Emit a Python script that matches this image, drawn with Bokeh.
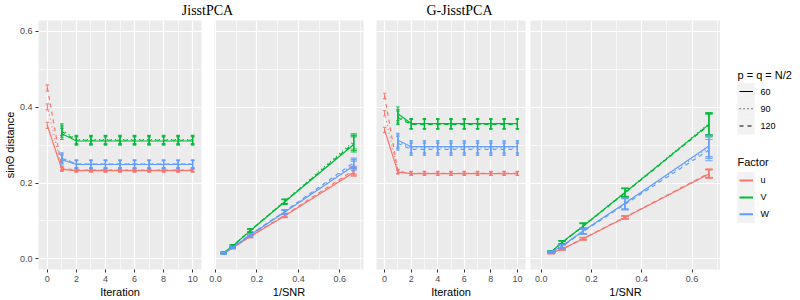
from bokeh.plotting import figure
from bokeh.layouts import row, column
from bokeh.models import Range1d, FixedTicker, Grid, PrintfTickFormatter, ColumnDataSource
from bokeh.core.properties import value
from bokeh.embed import file_html
from bokeh.resources import INLINE

# ---------------- data ----------------
iter_u = [0, 1, 2, 3, 4, 5, 6, 7, 8, 9, 10]
iter_vw = [1, 2, 3, 4, 5, 6, 7, 8, 9, 10]
snr_x = [0.04, 0.083, 0.167, 0.333, 0.667]

p_labels = ["60", "90", "120"]
factor_labels = ["u", "V", "W"]
panel_titles = ["JisstPCA", "G-JisstPCA"]
legend_titles = ["p = q = N/2", "Factor"]

# JisstPCA, by iteration
j_it_u_60 = [0.352, 0.236, 0.233, 0.233, 0.233, 0.233, 0.233, 0.233, 0.233, 0.233, 0.233]
j_it_u_90 = [0.401, 0.238, 0.234, 0.234, 0.234, 0.234, 0.234, 0.234, 0.234, 0.234, 0.234]
j_it_u_120 = [0.451, 0.240, 0.234, 0.234, 0.234, 0.234, 0.234, 0.234, 0.234, 0.234, 0.234]
j_it_u_sd = [0.008, 0.005, 0.004, 0.004, 0.004, 0.004, 0.004, 0.004, 0.004, 0.004, 0.004]
j_it_v_60 = [0.330, 0.311, 0.311, 0.311, 0.311, 0.311, 0.311, 0.311, 0.311, 0.311]
j_it_v_90 = [0.341, 0.315, 0.315, 0.315, 0.315, 0.315, 0.315, 0.315, 0.315, 0.315]
j_it_v_120 = [0.336, 0.313, 0.313, 0.313, 0.313, 0.313, 0.313, 0.313, 0.313, 0.313]
j_it_v_sd = [0.015, 0.011, 0.011, 0.011, 0.011, 0.011, 0.011, 0.011, 0.011, 0.011]
j_it_w_60 = [0.262, 0.249, 0.249, 0.249, 0.249, 0.249, 0.249, 0.249, 0.249, 0.249]
j_it_w_90 = [0.268, 0.251, 0.251, 0.251, 0.251, 0.251, 0.251, 0.251, 0.251, 0.251]
j_it_w_120 = [0.265, 0.250, 0.250, 0.250, 0.250, 0.250, 0.250, 0.250, 0.250, 0.250]
j_it_w_sd = [0.012, 0.010, 0.010, 0.010, 0.010, 0.010, 0.010, 0.010, 0.010, 0.010]

# JisstPCA, by 1/SNR
j_sn_u_60 = [0.015, 0.029, 0.059, 0.113, 0.228]
j_sn_u_90 = [0.015, 0.029, 0.059, 0.114, 0.231]
j_sn_u_120 = [0.015, 0.029, 0.060, 0.115, 0.234]
j_sn_u_sd = [0.002, 0.002, 0.003, 0.004, 0.010]
j_sn_v_60 = [0.016, 0.034, 0.074, 0.150, 0.302]
j_sn_v_90 = [0.016, 0.034, 0.075, 0.152, 0.310]
j_sn_v_120 = [0.016, 0.034, 0.075, 0.151, 0.306]
j_sn_v_sd = [0.002, 0.003, 0.004, 0.006, 0.020]
j_sn_w_60 = [0.015, 0.030, 0.063, 0.123, 0.246]
j_sn_w_90 = [0.015, 0.030, 0.064, 0.124, 0.250]
j_sn_w_120 = [0.015, 0.030, 0.064, 0.125, 0.254]
j_sn_w_sd = [0.002, 0.002, 0.003, 0.005, 0.012]

# G-JisstPCA, by iteration
g_it_u_60 = [0.340, 0.229, 0.225, 0.225, 0.225, 0.225, 0.225, 0.225, 0.225, 0.225, 0.225]
g_it_u_90 = [0.384, 0.230, 0.225, 0.225, 0.225, 0.225, 0.225, 0.225, 0.225, 0.225, 0.225]
g_it_u_120 = [0.430, 0.231, 0.226, 0.226, 0.226, 0.226, 0.226, 0.226, 0.226, 0.226, 0.226]
g_it_u_sd = [0.007, 0.005, 0.005, 0.005, 0.005, 0.005, 0.005, 0.005, 0.005, 0.005, 0.005]
g_it_v_60 = [0.383, 0.357, 0.357, 0.357, 0.357, 0.357, 0.357, 0.357, 0.357, 0.357]
g_it_v_90 = [0.376, 0.356, 0.356, 0.356, 0.356, 0.356, 0.356, 0.356, 0.356, 0.356]
g_it_v_120 = [0.372, 0.355, 0.355, 0.355, 0.355, 0.355, 0.355, 0.355, 0.355, 0.355]
g_it_v_sd = [0.018, 0.013, 0.013, 0.013, 0.013, 0.013, 0.013, 0.013, 0.013, 0.013]
g_it_w_60 = [0.313, 0.296, 0.296, 0.296, 0.296, 0.296, 0.296, 0.296, 0.296, 0.296]
g_it_w_90 = [0.309, 0.293, 0.293, 0.293, 0.293, 0.293, 0.293, 0.293, 0.293, 0.293]
g_it_w_120 = [0.305, 0.289, 0.289, 0.289, 0.289, 0.289, 0.289, 0.289, 0.289, 0.289]
g_it_w_sd = [0.018, 0.016, 0.016, 0.016, 0.016, 0.016, 0.016, 0.016, 0.016, 0.016]

# G-JisstPCA, by 1/SNR
g_sn_u_60 = [0.016, 0.026, 0.053, 0.109, 0.224]
g_sn_u_90 = [0.016, 0.026, 0.053, 0.109, 0.225]
g_sn_u_120 = [0.016, 0.026, 0.054, 0.110, 0.226]
g_sn_u_sd = [0.002, 0.002, 0.003, 0.004, 0.011]
g_sn_v_60 = [0.019, 0.044, 0.087, 0.175, 0.355]
g_sn_v_90 = [0.019, 0.044, 0.088, 0.176, 0.357]
g_sn_v_120 = [0.019, 0.043, 0.086, 0.174, 0.353]
g_sn_v_sd = [0.002, 0.004, 0.007, 0.011, 0.029]
g_sn_w_60 = [0.018, 0.034, 0.074, 0.147, 0.298]
g_sn_w_90 = [0.018, 0.033, 0.073, 0.146, 0.293]
g_sn_w_120 = [0.018, 0.033, 0.072, 0.144, 0.287]
g_sn_w_sd = [0.002, 0.004, 0.007, 0.015, 0.028]

# ---------------- style ----------------
SANS = "Liberation Sans"
SERIF = "Liberation Serif"
COLORS = ["#F8766D", "#00BA38", "#619CFF"]
DASHES = ["solid", "1 3", "4 4"]
PANEL_BG = "#EBEBEB"
Y_RANGE = (-0.028, 0.629)
Y_TICKS = [0.0, 0.2, 0.4, 0.6]
Y_MINOR = [0.1, 0.3, 0.5]
ROW_H = 280
BOTTOM = 30


def make_panel(width, mbl, mbr, xr, xticks, xminor, xlabel, show_y, xfmt):
    p = figure(width=width, height=ROW_H, x_range=Range1d(*xr), y_range=Range1d(*Y_RANGE),
               output_backend="svg", toolbar_location=None,
               y_axis_location="left" if show_y else None,
               min_border_left=mbl, min_border_right=mbr, min_border_top=0, min_border_bottom=BOTTOM)
    p.background_fill_color = PANEL_BG
    p.border_fill_color = "white"
    p.outline_line_color = None
    p.center = [r for r in p.center if not isinstance(r, Grid)]
    xt = FixedTicker(ticks=xticks, minor_ticks=xminor)
    yt = FixedTicker(ticks=Y_TICKS, minor_ticks=Y_MINOR)
    for dim, tk in ((0, xt), (1, yt)):
        p.add_layout(Grid(dimension=dim, ticker=tk, grid_line_color="white", grid_line_width=1.2,
                          minor_grid_line_color="white", minor_grid_line_width=0.6), "center")
    p.xaxis.ticker = xt
    p.xaxis.formatter = PrintfTickFormatter(format=xfmt)
    p.xaxis.axis_label = xlabel
    if show_y:
        p.yaxis.ticker = yt
        p.yaxis.formatter = PrintfTickFormatter(format="%.1f")
        p.yaxis.axis_label = "sin\u0398 distance"
    for ax in p.axis:
        ax.axis_line_color = None
        ax.major_tick_line_color = "#333333"
        ax.major_tick_out = 3
        ax.major_tick_in = 0
        ax.minor_tick_line_color = None
        ax.major_label_text_font = SANS
        ax.major_label_text_font_size = "9px"
        ax.major_label_text_color = "#4D4D4D"
        ax.axis_label_text_font = SANS
        ax.axis_label_text_font_size = "11px"
        ax.axis_label_text_font_style = "normal"
        ax.axis_label_text_color = "black"
        ax.major_label_standoff = 2
        ax.axis_label_standoff = 1
    return p


def add_factor(p, xs, means_list, sd, color, cap):
    for ys, dash in zip(means_list, DASHES):
        p.line(xs, ys, line_color=color, line_width=1.2, line_dash=dash)
    for ys in means_list:
        lo = [y - s for y, s in zip(ys, sd)]
        hi = [y + s for y, s in zip(ys, sd)]
        src = ColumnDataSource(dict(x=xs, lo=lo, hi=hi,
                                    xa=[x - cap / 2 for x in xs], xb=[x + cap / 2 for x in xs]))
        kw = dict(source=src, line_color=color, line_width=1.2, line_alpha=0.85)
        p.segment(x0="x", y0="lo", x1="x", y1="hi", **kw)
        p.segment(x0="xa", y0="lo", x1="xb", y1="lo", **kw)
        p.segment(x0="xa", y0="hi", x1="xb", y1="hi", **kw)


IT_TICKS = [0, 2, 4, 6, 8, 10]
IT_MINOR = [1, 3, 5, 7, 9]
SN_TICKS = [0.0, 0.2, 0.4, 0.6]
SN_MINOR = [0.1, 0.3, 0.5, 0.7]

f1 = make_panel(207, 33, 6, (-0.61, 10.61), IT_TICKS, IT_MINOR, "Iteration", True, "%d")
f2 = make_panel(162, 7, 6, (-0.005, 0.714), SN_TICKS, SN_MINOR, "1/SNR", False, "%.1f")
f3 = make_panel(159, 7, 3, (-0.61, 10.61), IT_TICKS, IT_MINOR, "Iteration", False, "%d")
f4 = make_panel(192, 2, 0, (-0.043, 0.713), SN_TICKS, SN_MINOR, "1/SNR", False, "%.1f")

add_factor(f1, iter_u, [j_it_u_60, j_it_u_90, j_it_u_120], j_it_u_sd, COLORS[0], 0.25)
add_factor(f1, iter_vw, [j_it_v_60, j_it_v_90, j_it_v_120], j_it_v_sd, COLORS[1], 0.25)
add_factor(f1, iter_vw, [j_it_w_60, j_it_w_90, j_it_w_120], j_it_w_sd, COLORS[2], 0.25)

add_factor(f2, snr_x, [j_sn_u_60, j_sn_u_90, j_sn_u_120], j_sn_u_sd, COLORS[0], 0.03)
add_factor(f2, snr_x, [j_sn_v_60, j_sn_v_90, j_sn_v_120], j_sn_v_sd, COLORS[1], 0.03)
add_factor(f2, snr_x, [j_sn_w_60, j_sn_w_90, j_sn_w_120], j_sn_w_sd, COLORS[2], 0.03)

add_factor(f3, iter_u, [g_it_u_60, g_it_u_90, g_it_u_120], g_it_u_sd, COLORS[0], 0.25)
add_factor(f3, iter_vw, [g_it_v_60, g_it_v_90, g_it_v_120], g_it_v_sd, COLORS[1], 0.25)
add_factor(f3, iter_vw, [g_it_w_60, g_it_w_90, g_it_w_120], g_it_w_sd, COLORS[2], 0.25)

add_factor(f4, snr_x, [g_sn_u_60, g_sn_u_90, g_sn_u_120], g_sn_u_sd, COLORS[0], 0.03)
add_factor(f4, snr_x, [g_sn_v_60, g_sn_v_90, g_sn_v_120], g_sn_v_sd, COLORS[1], 0.03)
add_factor(f4, snr_x, [g_sn_w_60, g_sn_w_90, g_sn_w_120], g_sn_w_sd, COLORS[2], 0.03)

# ---------------- title strip (page pixel coordinates) ----------------
tf = figure(width=800, height=20, x_range=Range1d(0, 800), y_range=Range1d(20, 0),
            output_backend="svg", toolbar_location=None,
            x_axis_location=None, y_axis_location=None, min_border=0)
tf.outline_line_color = None
tf.grid.visible = False
tf.text(x=[207, 459], y=[9.5, 9.5], text=panel_titles, text_font=value(SERIF),
        text_font_size="14px", text_align="center", text_baseline="middle", text_color="black")

# ---------------- legend (page pixel coordinates, frame = 20..270) ----------------
lf = figure(width=80, height=ROW_H, x_range=Range1d(720, 800), y_range=Range1d(270, 20),
            output_backend="svg", toolbar_location=None,
            x_axis_location=None, y_axis_location=None,
            min_border_left=0, min_border_right=0, min_border_top=0, min_border_bottom=BOTTOM)
lf.outline_line_color = None
lf.grid.visible = False
lf.background_fill_color = "white"

rows1 = [91.3, 108.6, 125.9]
rows2 = [180.6, 197.6, 214.6]
lf.text(x=[737, 737], y=[74.3, 162.3], text=legend_titles, text_font=value(SANS),
        text_font_size="11px", text_baseline="middle", text_align="left", text_color="black")
lf.rect(x=[745.6] * 6, y=rows1 + rows2, width=17.3, height=17.3, fill_color="#F2F2F2", line_color=None)
for yy, dash in zip(rows1, DASHES):
    lf.segment(x0=[739], y0=[yy], x1=[752.5], y1=[yy], line_color="black", line_width=1.1, line_dash=dash)
for yy, c in zip(rows2, COLORS):
    lf.segment(x0=[739], y0=[yy], x1=[752.5], y1=[yy], line_color=c, line_width=2)
lf.text(x=[760] * 3, y=rows1, text=p_labels, text_font=value(SANS), text_font_size="9px",
        text_baseline="middle", text_align="left", text_color="black")
lf.text(x=[760] * 3, y=rows2, text=factor_labels, text_font=value(SANS), text_font_size="9px",
        text_baseline="middle", text_align="left", text_color="black")

layout = column(tf, row(f1, f2, f3, f4, lf, spacing=0), spacing=0)

open("out.html", "w").write(file_html(layout, INLINE))
